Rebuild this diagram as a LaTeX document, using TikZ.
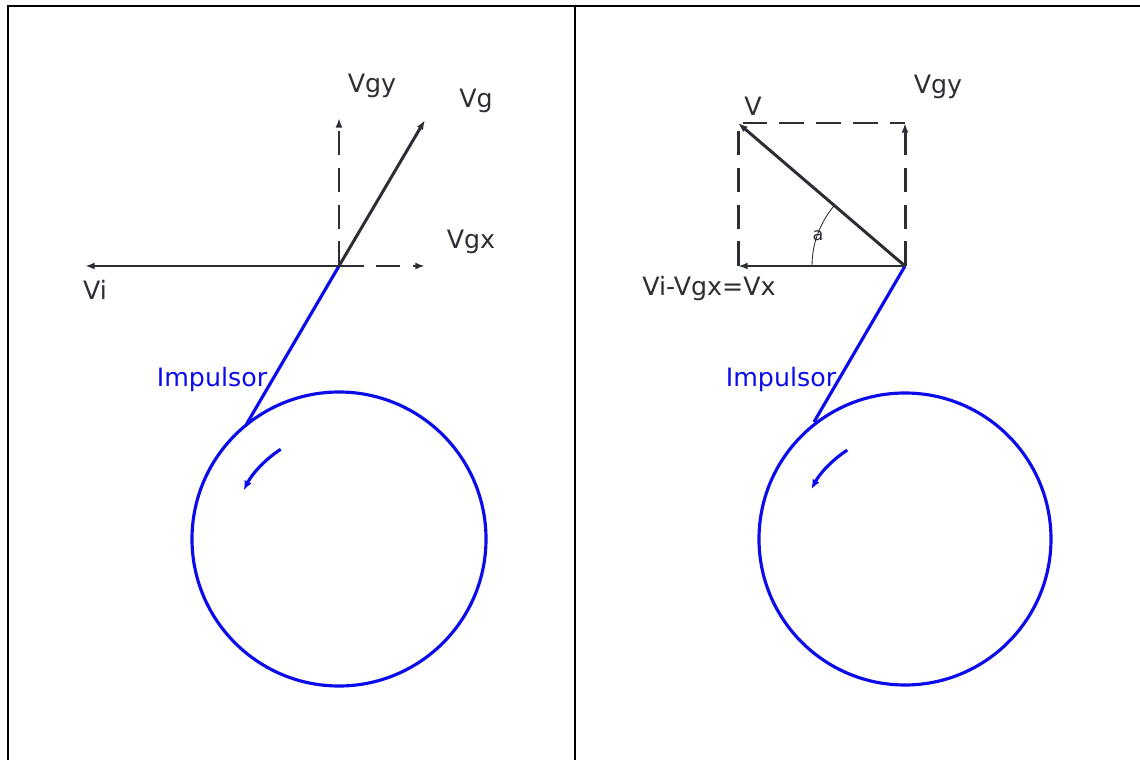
\documentclass[tikz,border=0pt]{standalone}
\usepackage{fontspec}
\setmainfont{DejaVu Sans}
\usepackage{xcolor}
\usetikzlibrary{arrows.meta}
\definecolor{ink}{RGB}{43,46,51}
\definecolor{impblue}{RGB}{12,12,235}
\tikzset{
  vec/.style={draw=ink, line width=1.7pt, -{Latex[length=5.5pt, width=4pt]}},
  dashvec/.style={vec, dash pattern=on 14pt off 7pt},
  dashline/.style={draw=ink, line width=1.7pt, dash pattern=on 14pt off 7pt},
  imp/.style={draw=impblue, line width=1.8pt},
  spin/.style={imp, -{Latex[length=5.5pt, width=4.5pt]}},
  lbl/.style={text=ink, inner sep=0pt, font=\fontsize{14.4}{16}\selectfont},
  implbl/.style={lbl, text=impblue}
}

\begin{document}
\begin{tikzpicture}[x=0.02cm, y=-0.02cm]
  \useasboundingbox (0,0) rectangle (1140,760);
  % frame
  \draw[line width=1.4pt] (8,760) -- (8,6) -- (1140,6);
  \draw[line width=1.4pt] (575,6) -- (575,760);

  % left panel
  \coordinate (oL) at (339,266);
  \coordinate (viL) at (85,266);
  \coordinate (vgxL) at (425,266);
  \coordinate (vgyL) at (339,118);
  \coordinate (vgL) at (425,120);
  \coordinate (touchL) at (246,425);
  \coordinate (cL) at (339,539);
  \draw[imp] (cL) circle[radius=147];
  \draw[imp] (oL) -- (touchL);
  \draw[spin] ([shift={(-123:107)}]cL) arc[start angle=-123, end angle=-153, radius=107];
  \draw[vec] (oL) -- (viL);
  \draw[dashvec] (oL) -- (vgxL);
  \draw[dashvec] (oL) -- (vgyL);
  \draw[vec] (oL) -- (vgL);
  \node[lbl] (lvgyL) at (372,86) {Vgy};
  \node[lbl] (lvgL) at (476,101) {Vg};
  \node[lbl] (lvgxL) at (471,242) {Vgx};
  \node[lbl] (lviL) at (95,290) {Vi};
  \node[implbl] (limpL) at (212,380) {Impulsor};

  % right panel
  \coordinate (oR) at (905,266);
  \coordinate (vxR) at (738,266);
  \coordinate (vR) at (738,123);
  \coordinate (cornerR) at (905,123);
  \coordinate (touchR) at (814,422);
  \coordinate (cR) at (905,539);
  \draw[imp] (cR) circle[radius=146];
  \draw[imp] (oR) -- (touchR);
  \draw[spin] ([shift={(-123:106)}]cR) arc[start angle=-123, end angle=-152, radius=106];
  \draw[dashline] (vxR) -- (vR) -- (cornerR);
  \draw[dashvec] (oR) -- (cornerR);
  \draw[vec] (oR) -- (vxR);
  \draw[vec] (oR) -- (vR);
  \draw[ink, line width=0.5pt] ([shift={(180:93)}]oR) arc[start angle=180, end angle=220.6, radius=93];
  \node[lbl, font=\fontsize{10}{12}\selectfont] (langR) at (818,236) {a};
  \node[lbl] (lvR) at (753,106) {V};
  \node[lbl] (lvgyR) at (938,87) {Vgy};
  \node[lbl] (lvxR) at (709,289) {Vi-Vgx=Vx};
  \node[implbl] (limpR) at (781,380) {Impulsor};
\end{tikzpicture}
\end{document}
